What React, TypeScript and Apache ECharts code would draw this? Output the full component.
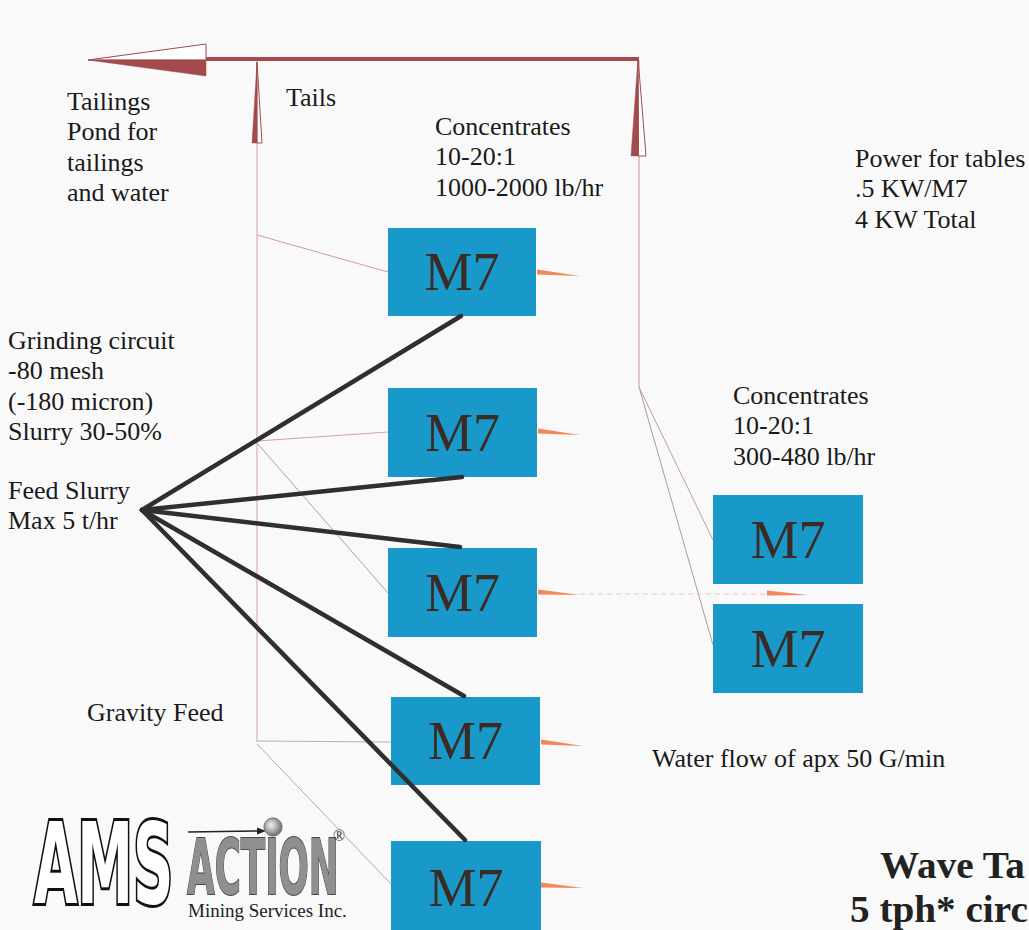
import React, { useEffect, useRef } from "react";
import * as echarts from "echarts";

const W = 1029;
const H = 930;

// Wave tables (M7): [left, top, right, bottom] in diagram units
const tableLabels = ["M7", "M7", "M7", "M7", "M7", "M7", "M7"];
const tableBoxes = [
  [388, 228, 536, 316],
  [388, 388, 537, 477],
  [388, 548, 537, 637],
  [391, 697, 540, 785],
  [391, 841, 541, 936],
  [713, 495, 863, 584],
  [713, 604, 863, 693],
];

// Concentrate outlets (orange wedges): [x0, y0, x1, y1]
const concOutlets = [
  [537, 272, 580, 276],
  [538, 431, 580, 435],
  [538, 592, 580, 595],
  [541, 742, 583, 746],
  [541, 885, 583, 888],
  [767, 593, 808, 595],
];

// Slurry feed point and the feed pipes to each table
const feedPoint = [142, 510];
const feedTargets = [
  [461, 316],
  [462, 477],
  [460, 547],
  [464, 696],
  [465, 840],
];

// Tails piping (thin lines)
const tailsPipes = [
  [[257, 60], [257, 742]],
  [[257, 235], [388, 272]],
  [[257, 441], [388, 432]],
  [[257, 443], [388, 593]],
  [[257, 741], [391, 742]],
  [[257, 744], [391, 884]],
  [[639, 60], [639, 387], [713, 540]],
  [[639, 387], [713, 645]],
];
const tailsPipeShade = ["#d3a2a2", "#cf9c9c", "#cfa4a4", "#aaa3a3", "#b9b0b0", "#b7a8a8", "#c99a9a", "#a89c9c"];

// Transfer of concentrate to the second stage
const transferPipe = [[580, 594], [768, 594]];

// Tails header to the pond
const tailsHeader = [[639, 59], [206, 59]];

// Arrow heads: [tipX, tipY, lightBaseX, lightBaseY, darkBaseX, darkBaseY]
const arrowHeads = [
  [88, 60, 206, 44, 206, 76],
  [257, 62, 262, 143, 252, 143],
  [638, 58, 646, 156, 631, 156],
];

// Notes
const notes = [
  "Tailings\nPond for\ntailings\nand water",
  "Tails",
  "Concentrates\n10-20:1\n1000-2000 lb/hr",
  "Power for tables\n.5 KW/M7\n4 KW Total",
  "Grinding circuit\n-80 mesh\n(-180 micron)\nSlurry 30-50%",
  "Feed Slurry\nMax 5 t/hr",
  "Gravity Feed",
  "Concentrates\n10-20:1\n300-480 lb/hr",
  "Water flow of apx 50 G/min",
];
// [left, centre of first line]
const noteAnchors = [
  [67, 101],
  [286, 97],
  [435, 126],
  [855, 158],
  [8, 340],
  [8, 490],
  [87, 712],
  [733, 395],
  [652, 758],
];

// Title block (only this much is inside the page)
const titleLines = ["Wave Ta", "5 tph* circ"];
const titleAnchors = [
  [880, 865],
  [850, 909],
];

const RED = "#a34a4c";
const BOX = "#1899c9";
const ORANGE = "#f3875a";
const SERIF = "'Liberation Serif', 'Times New Roman', serif";

export default function App() {
  const ref = useRef<HTMLDivElement>(null);

  useEffect(() => {
    if (!ref.current) return;
    const chart = echarts.init(ref.current, null, { renderer: "svg" });

    const option: any = {
      animation: false,
      backgroundColor: "#f9f9f9",
      grid: { left: 0, right: 0, top: 0, bottom: 0, containLabel: false },
      xAxis: { type: "value", min: 0, max: W, show: false },
      yAxis: { type: "value", min: 0, max: H, inverse: true, show: false },
      series: [
        {
          type: "lines",
          coordinateSystem: "cartesian2d",
          polyline: true,
          silent: true,
          z: 1,
          lineStyle: { width: 1, opacity: 1 },
          data: tailsPipes.map((c, i) => ({ coords: c, lineStyle: { color: tailsPipeShade[i], width: 1 } })),
        },
        {
          type: "lines",
          coordinateSystem: "cartesian2d",
          polyline: true,
          silent: true,
          z: 1,
          lineStyle: { width: 1, color: "#f0c4b2", type: [5, 4], opacity: 1 },
          data: [{ coords: transferPipe }],
        },
        {
          type: "lines",
          coordinateSystem: "cartesian2d",
          polyline: true,
          silent: true,
          z: 2,
          lineStyle: { width: 4, color: RED, opacity: 1 },
          data: [{ coords: tailsHeader }],
        },
        {
          type: "custom",
          z: 3,
          silent: true,
          data: arrowHeads,
          encode: { x: [0, 2, 4], y: [1, 3, 5] },
          renderItem: (params: any, api: any) => {
            const t = api.coord([api.value(0), api.value(1)]);
            const a = api.coord([api.value(2), api.value(3)]);
            const b = api.coord([api.value(4), api.value(5)]);
            const m = [(a[0] + b[0]) / 2, (a[1] + b[1]) / 2];
            return {
              type: "group",
              children: [
                { type: "polygon", shape: { points: [t, a, m] }, style: { fill: "#ffffff", stroke: RED, lineWidth: 1 } },
                { type: "polygon", shape: { points: [t, m, b] }, style: { fill: RED, stroke: RED, lineWidth: 0.5 } },
              ],
            };
          },
        },
        {
          type: "custom",
          z: 4,
          silent: true,
          data: tableBoxes,
          encode: { x: [0, 2], y: [1, 3] },
          renderItem: (params: any, api: any) => {
            const p0 = api.coord([api.value(0), api.value(1)]);
            const p1 = api.coord([api.value(2), api.value(3)]);
            return {
              type: "group",
              children: [
                {
                  type: "rect",
                  shape: { x: p0[0], y: p0[1], width: p1[0] - p0[0], height: p1[1] - p0[1] },
                  style: { fill: BOX },
                },
                {
                  type: "text",
                  x: (p0[0] + p1[0]) / 2,
                  y: (Math.min(p1[1], H) + p0[1]) / 2 + (p1[1] > H ? 2 : 0),
                  style: {
                    text: tableLabels[params.dataIndex],
                    fontFamily: SERIF,
                    fontSize: 54,
                    fill: "#3a2b24",
                    align: "center",
                    verticalAlign: "middle",
                  },
                },
              ],
            };
          },
        },
        {
          type: "custom",
          z: 5,
          silent: true,
          data: concOutlets,
          encode: { x: [0, 2], y: [1, 3] },
          renderItem: (params: any, api: any) => {
            const p0 = api.coord([api.value(0), api.value(1)]);
            const p1 = api.coord([api.value(2), api.value(3)]);
            return {
              type: "polygon",
              shape: { points: [[p0[0], p0[1] - 2.5], p1, [p0[0], p0[1] + 2.5]] },
              style: { fill: ORANGE },
            };
          },
        },
        {
          type: "lines",
          coordinateSystem: "cartesian2d",
          silent: true,
          z: 6,
          lineStyle: { width: 4.5, color: "#2f2f2f", opacity: 1, cap: "round" },
          data: feedTargets.map((t) => ({ coords: [feedPoint, t] })),
        },
        {
          type: "custom",
          z: 7,
          silent: true,
          data: noteAnchors,
          encode: { x: 0, y: 1 },
          renderItem: (params: any, api: any) => {
            const p = api.coord([api.value(0), api.value(1)]);
            return {
              type: "text",
              x: p[0],
              y: p[1] - 15.25,
              style: {
                text: notes[params.dataIndex],
                fontFamily: SERIF,
                fontSize: 26,
                lineHeight: 30.5,
                fill: "#1a1a1a",
                align: "left",
                verticalAlign: "top",
              },
            };
          },
        },
        {
          type: "custom",
          z: 7,
          silent: true,
          data: titleAnchors,
          encode: { x: 0, y: 1 },
          renderItem: (params: any, api: any) => {
            const p = api.coord([api.value(0), api.value(1)]);
            return {
              type: "text",
              x: p[0],
              y: p[1],
              scaleX: 1.06,
              style: {
                text: titleLines[params.dataIndex],
                fontFamily: SERIF,
                fontSize: 37,
                fontWeight: "bold",
                fill: "#222222",
                align: "left",
                verticalAlign: "middle",
              },
            };
          },
        },
      ],
      graphic: [
        {
          type: "text",
          x: 34,
          y: 864,
          scaleX: 0.5,
          style: {
            text: "AMS",
            fontFamily: "'DejaVu Sans', sans-serif",
            fontWeight: "bold",
            fontSize: 112,
            fill: "#ffffff",
            stroke: "#111111",
            lineWidth: 6,
            verticalAlign: "middle",
            align: "left",
          },
        },
        {
          type: "line",
          shape: { x1: 188, y1: 832, x2: 262, y2: 831 },
          style: { stroke: "#222", lineWidth: 1.5 },
        },
        {
          type: "polygon",
          shape: { points: [[266, 831], [257, 827.5], [257, 834.5]] },
          style: { fill: "#222" },
        },
        {
          type: "circle",
          shape: { cx: 273, cy: 827, r: 9 },
          style: {
            fill: new echarts.graphic.RadialGradient(0.4, 0.4, 0.7, [
              { offset: 0, color: "#f4f4f4" },
              { offset: 0.5, color: "#a8a8a8" },
              { offset: 1, color: "#5a5a5a" },
            ]),
            stroke: "#666",
            lineWidth: 1,
          },
        },
        {
          type: "text",
          x: 187,
          y: 868,
          scaleX: 0.47,
          style: {
            text: "ACTION",
            fontFamily: "'DejaVu Sans', sans-serif",
            fontWeight: "bold",
            fontSize: 76,
            fill: "#8f8f8f",
            stroke: "#4a4a4a",
            lineWidth: 2,
            verticalAlign: "middle",
            align: "left",
          },
        },
        {
          type: "text",
          x: 333,
          y: 835,
          style: {
            text: "®",
            fontFamily: SERIF,
            fontSize: 16,
            fill: "#333",
            verticalAlign: "middle",
            align: "left",
          },
        },
        {
          type: "text",
          x: 188,
          y: 910,
          style: {
            text: "Mining Services Inc.",
            fontFamily: SERIF,
            fontSize: 19,
            fill: "#222",
            verticalAlign: "middle",
            align: "left",
          },
        },
      ],
    };

    chart.setOption(option);
    return () => chart.dispose();
  }, []);

  return (
    <div
      ref={ref}
      style={{ position: "absolute", left: 0, top: 0, width: W, height: H }}
    />
  );
}
